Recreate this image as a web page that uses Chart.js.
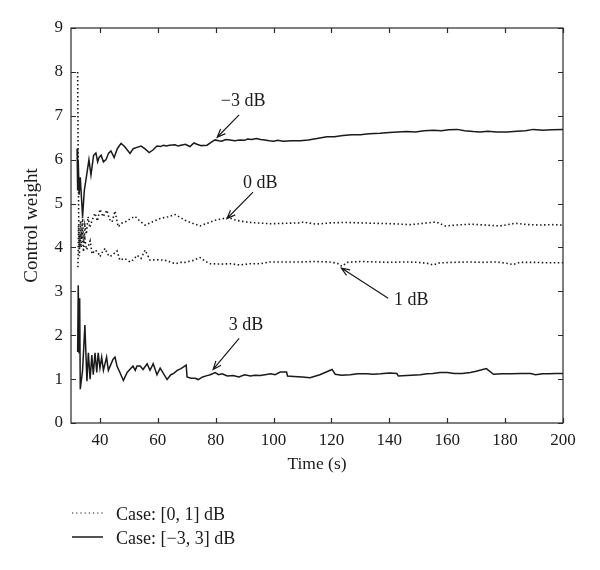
<!DOCTYPE html>
<html>
<head>
<meta charset="utf-8">
<script src="https://cdn.jsdelivr.net/npm/chart.js@4.4.1/dist/chart.umd.min.js"></script>
<style>
  html, body { margin: 0; padding: 0; background: #fff; }
</style>
</head>
<body>
<canvas id="weightChart" width="600" height="570"></canvas>
<script>
// tick labels
const xTicks = [40, 60, 80, 100, 120, 140, 160, 180, 200];
const yTicks = [0, 1, 2, 3, 4, 5, 6, 7, 8, 9];

// [time (s), control weight]
const minus3dB = [
  [32.1, 6.25], [32.3, 5.3], [32.5, 6.0], [32.8, 5.2], [33.2, 5.6], [34.0, 4.7], [34.6, 5.3],
  [35.3, 5.6], [36.2, 6.0], [36.9, 5.65], [37.8, 6.1], [38.6, 6.15], [39.2, 5.95], [39.7, 6.05],
  [40.4, 6.1], [41.2, 5.95], [42.1, 6.0], [43.0, 6.15], [43.8, 6.2], [44.9, 6.05], [46.0, 6.25],
  [47.3, 6.37], [48.5, 6.3], [50.4, 6.14], [51.5, 6.25], [52.8, 6.28], [54.2, 6.31], [55.5, 6.25],
  [57.0, 6.16], [58.3, 6.22], [59.7, 6.31], [61, 6.3], [62, 6.33], [63, 6.31], [64, 6.33],
  [66, 6.34], [67, 6.31], [68, 6.33], [69.5, 6.35], [71.1, 6.3], [72.5, 6.38], [73.5, 6.35],
  [75.0, 6.32], [77, 6.33], [78.5, 6.4], [79.8, 6.45], [81, 6.43], [82, 6.42], [83.5, 6.46],
  [85, 6.45], [86.5, 6.43], [88.4, 6.45], [90, 6.44], [91, 6.47], [92.5, 6.46], [94.0, 6.48],
  [95.5, 6.46], [97, 6.45], [98.5, 6.43], [100, 6.42], [101.5, 6.44], [103.3, 6.42], [106, 6.43],
  [109.2, 6.43], [112, 6.45], [115, 6.48], [118.4, 6.52], [121, 6.52], [124, 6.55], [127, 6.57],
  [130, 6.57], [133, 6.59], [136.8, 6.6], [140, 6.62], [143, 6.63], [146, 6.64], [149, 6.63],
  [152, 6.66], [155.2, 6.67], [158, 6.66], [160.5, 6.68], [163.4, 6.69], [166, 6.66], [169, 6.64],
  [171.4, 6.63], [174, 6.65], [177, 6.63], [180.7, 6.63], [184, 6.65], [187, 6.66], [189.8, 6.69],
  [193, 6.67], [196, 6.68], [200, 6.69]
];

const zero_dB = [
  [32.3, 8.0], [32.5, 5.8], [32.7, 4.4], [33.0, 4.0], [33.3, 4.6], [33.6, 4.2], [34.0, 4.7],
  [34.4, 4.1], [34.8, 4.5], [35.3, 4.3], [35.9, 4.7], [36.5, 4.45], [37.2, 4.6], [38.3, 4.78],
  [39.1, 4.6], [40.0, 4.87], [41.1, 4.7], [42.4, 4.85], [43.2, 4.65], [44.2, 4.58], [45.2, 4.83],
  [46.3, 4.47], [47.5, 4.55], [48.7, 4.58], [50.4, 4.65], [52.1, 4.71], [53.8, 4.6], [55.6, 4.51],
  [58, 4.58], [60.8, 4.66], [63.5, 4.7], [66.0, 4.75], [67.8, 4.68], [69.4, 4.62], [72, 4.55],
  [74.6, 4.49], [77, 4.55], [79.8, 4.62], [82, 4.65], [84.3, 4.68], [87, 4.62], [90.2, 4.58],
  [94, 4.56], [98.8, 4.54], [104, 4.55], [109.2, 4.56], [110.2, 4.58], [114.7, 4.53], [119.6, 4.56],
  [125, 4.57], [129.9, 4.56], [135, 4.55], [141, 4.54], [147.2, 4.52], [152, 4.55], [156.2, 4.58],
  [159.3, 4.49], [163, 4.51], [168.0, 4.53], [173, 4.51], [178.3, 4.49], [183.5, 4.55], [188, 4.52],
  [192.2, 4.51], [196, 4.52], [200, 4.51]
];

const one_dB = [
  [32.4, 3.55], [32.6, 4.5], [32.9, 3.8], [33.1, 4.3], [33.5, 4.0], [33.9, 4.4], [34.3, 3.9],
  [34.8, 4.2], [35.3, 3.95], [35.9, 4.01], [36.6, 4.15], [37.3, 3.85], [38.3, 3.94], [39.2, 3.9],
  [40.0, 3.79], [40.9, 3.9], [41.8, 3.98], [42.6, 3.85], [43.5, 3.79], [44.7, 3.85], [45.9, 3.92],
  [46.9, 3.71], [48.5, 3.75], [50.4, 3.67], [51.6, 3.72], [52.8, 3.82], [54.2, 3.75], [55.6, 3.94],
  [57.3, 3.71], [59.5, 3.72], [62.5, 3.71], [64.5, 3.66], [66.0, 3.63], [68, 3.66], [69.4, 3.66],
  [72, 3.7], [74.6, 3.77], [76.5, 3.68], [78.1, 3.63], [82, 3.62], [85, 3.63], [88.4, 3.6],
  [92, 3.63], [95.4, 3.63], [98.8, 3.67], [104, 3.67], [109.2, 3.67], [114, 3.68], [119, 3.67],
  [122, 3.64], [123.6, 3.57], [125.5, 3.66], [130, 3.68], [135, 3.67], [140, 3.66], [145, 3.67],
  [150, 3.66], [153, 3.64], [155.2, 3.6], [157.5, 3.65], [162, 3.66], [167, 3.67], [172, 3.66],
  [177, 3.67], [180.5, 3.64], [182.8, 3.61], [185, 3.66], [190, 3.66], [195, 3.65], [200, 3.65]
];

const three_dB = [
  [32.3, 1.62], [32.5, 3.14], [32.8, 1.6], [33.0, 2.84], [33.2, 0.77], [34.0, 1.2], [34.8, 2.23],
  [35.5, 0.95], [36.0, 1.6], [36.6, 1.0], [37.2, 1.55], [37.7, 1.1], [38.3, 1.6], [38.9, 1.15],
  [39.4, 1.6], [40.0, 1.25], [40.6, 1.5], [41.2, 1.2], [42.3, 1.5], [42.9, 1.2], [44.5, 1.45],
  [45.2, 1.5], [45.9, 1.3], [46.9, 1.15], [48.1, 0.97], [49.4, 1.15], [51.4, 1.3], [52.2, 1.2],
  [52.8, 1.3], [53.9, 1.3], [54.9, 1.22], [56.3, 1.35], [57.3, 1.2], [58.4, 1.35], [59.7, 1.1],
  [60.8, 1.25], [63.2, 0.99], [64.5, 1.1], [65.5, 1.13], [66.7, 1.2], [68, 1.24], [69.8, 1.32],
  [70.1, 1.05], [71.5, 1.02], [72.9, 1.02], [74, 0.99], [75.5, 1.05], [77, 1.08], [78.1, 1.1],
  [79.8, 1.15], [81, 1.1], [82.2, 1.12], [84, 1.07], [86.0, 1.08], [88, 1.05], [90, 1.1],
  [92, 1.07], [93.5, 1.09], [95.4, 1.08], [97, 1.1], [99, 1.12], [100.5, 1.1], [102.3, 1.16],
  [104.5, 1.16], [104.8, 1.07], [107, 1.06], [109.9, 1.05], [112.6, 1.03], [116, 1.1], [120.2, 1.22],
  [121.3, 1.11], [123.5, 1.09], [126.5, 1.1], [129, 1.12], [132, 1.12], [134.5, 1.11], [137, 1.12],
  [140, 1.14], [142.6, 1.13], [143.1, 1.07], [146, 1.08], [150.7, 1.1], [153, 1.12], [155, 1.13],
  [157.5, 1.15], [160.0, 1.15], [162.5, 1.13], [165.2, 1.13], [168, 1.15], [170, 1.18], [173.5, 1.24],
  [176.0, 1.11], [179, 1.12], [182, 1.12], [185.5, 1.13], [188.8, 1.13], [190.5, 1.1], [193, 1.12],
  [195, 1.12], [197.5, 1.13], [200, 1.13]
];

// annotation text, arrow tail/tip and text anchor in data units
const notes = [
  { text: '\u22123 dB', tail: [88.1, 7.02], tip: [80.5, 6.51], at: [89.5, 7.33] },
  { text: '0 dB', tail: [92.9, 5.26], tip: [83.9, 4.66], at: [95.4, 5.47] },
  { text: '1 dB', tail: [139.6, 2.84], tip: [123.4, 3.53], at: [147.6, 2.8] },
  { text: '3 dB', tail: [88.1, 1.93], tip: [79.1, 1.22], at: [90.5, 2.23] }
];

const legendItems = [
  { text: 'Case: [0, 1] dB', dotted: true },
  { text: 'Case: [\u22123, 3] dB', dotted: false }
];

const serif = '"Liberation Serif", "DejaVu Serif", serif';
const ink = '#1a1a1a';
const dotted = [1.5, 2.5];

function toPoints(arr) {
  return arr.map(p => ({ x: p[0], y: p[1] }));
}

function lineSet(label, arr, dash) {
  return {
    label: label,
    data: toPoints(arr),
    borderColor: ink,
    borderWidth: dash.length ? 1.6 : 1.5,
    borderDash: dash,
    pointRadius: 0,
    tension: 0,
    fill: false
  };
}

// frame with inward ticks, matlab style
const framePlugin = {
  id: 'frame',
  afterDraw(chart) {
    const { ctx, chartArea: a, scales } = chart;
    ctx.save();
    ctx.strokeStyle = '#2a2a2a';
    ctx.lineWidth = 1.2;
    ctx.strokeRect(a.left, a.top, a.right - a.left, a.bottom - a.top);
    ctx.beginPath();
    const len = 5;
    xTicks.forEach(v => {
      const px = Math.round(scales.x.getPixelForValue(v)) + 0.5;
      ctx.moveTo(px, a.bottom); ctx.lineTo(px, a.bottom - len);
      ctx.moveTo(px, a.top); ctx.lineTo(px, a.top + len);
    });
    yTicks.forEach(v => {
      const py = Math.round(scales.y.getPixelForValue(v)) + 0.5;
      ctx.moveTo(a.left, py); ctx.lineTo(a.left + len, py);
      ctx.moveTo(a.right, py); ctx.lineTo(a.right - len, py);
    });
    ctx.stroke();
    ctx.restore();
  }
};

const notePlugin = {
  id: 'notes',
  afterDatasetsDraw(chart) {
    const { ctx, scales } = chart;
    const px = p => [scales.x.getPixelForValue(p[0]), scales.y.getPixelForValue(p[1])];
    ctx.save();
    ctx.strokeStyle = ink;
    ctx.fillStyle = ink;
    ctx.lineWidth = 1.2;
    ctx.font = '18px ' + serif;
    ctx.textAlign = 'center';
    ctx.textBaseline = 'middle';
    notes.forEach(n => {
      const [x0, y0] = px(n.tail);
      const [x1, y1] = px(n.tip);
      const ang = Math.atan2(y1 - y0, x1 - x0);
      ctx.beginPath();
      ctx.moveTo(x0, y0);
      ctx.lineTo(x1, y1);
      const h = 9, spread = 0.38;
      ctx.moveTo(x1 - h * Math.cos(ang - spread), y1 - h * Math.sin(ang - spread));
      ctx.lineTo(x1, y1);
      ctx.lineTo(x1 - h * Math.cos(ang + spread), y1 - h * Math.sin(ang + spread));
      ctx.stroke();
      const [tx, ty] = px(n.at);
      ctx.fillText(n.text, tx, ty);
    });
    ctx.restore();
  }
};

const legendPlugin = {
  id: 'caseLegend',
  afterDraw(chart) {
    const { ctx } = chart;
    ctx.save();
    ctx.strokeStyle = ink;
    ctx.fillStyle = ink;
    ctx.font = '18px ' + serif;
    ctx.textBaseline = 'middle';
    legendItems.forEach((item, i) => {
      const y = 513 + i * 24;
      ctx.beginPath();
      ctx.setLineDash(item.dotted ? [1.2, 3] : []);
      ctx.lineWidth = item.dotted ? 1.2 : 1.5;
      ctx.moveTo(72, y);
      ctx.lineTo(103, y);
      ctx.stroke();
      ctx.setLineDash([]);
      ctx.fillText(item.text, 116, y + 2);
    });
    ctx.restore();
  }
};

const tickFont = { family: serif, size: 17 };

new Chart(document.getElementById('weightChart'), {
  type: 'line',
  data: {
    datasets: [
      lineSet('-3 dB', minus3dB, []),
      lineSet('0 dB', zero_dB, dotted),
      lineSet('1 dB', one_dB, dotted),
      lineSet('3 dB', three_dB, [])
    ]
  },
  options: {
    responsive: false,
    animation: false,
    devicePixelRatio: 1,
    layout: { padding: { left: 0, top: 28, right: 37, bottom: 87 } },
    plugins: {
      legend: { display: false },
      tooltip: { enabled: false }
    },
    scales: {
      x: {
        type: 'linear',
        min: 30,
        max: 200,
        afterBuildTicks: s => { s.ticks = xTicks.map(v => ({ value: v })); },
        afterFit: s => { s.height = 60; },
        grid: { display: false, drawTicks: false },
        border: { display: false },
        ticks: { font: tickFont, color: ink, padding: 7, maxRotation: 0 },
        title: { display: true, text: 'Time (s)', font: { family: serif, size: 17.5 }, color: ink, padding: { top: 0, bottom: 8 } }
      },
      y: {
        type: 'linear',
        min: 0,
        max: 9,
        afterBuildTicks: s => { s.ticks = yTicks.map(v => ({ value: v })); },
        afterFit: s => { s.width = 71; },
        grid: { display: false, drawTicks: false },
        border: { display: false },
        ticks: { font: tickFont, color: ink, padding: 8 },
        title: { display: true, text: 'Control weight', font: { family: serif, size: 19 }, color: ink, padding: { top: 21, bottom: 0 } }
      }
    }
  },
  plugins: [framePlugin, notePlugin, legendPlugin]
});
</script>
</body>
</html>
